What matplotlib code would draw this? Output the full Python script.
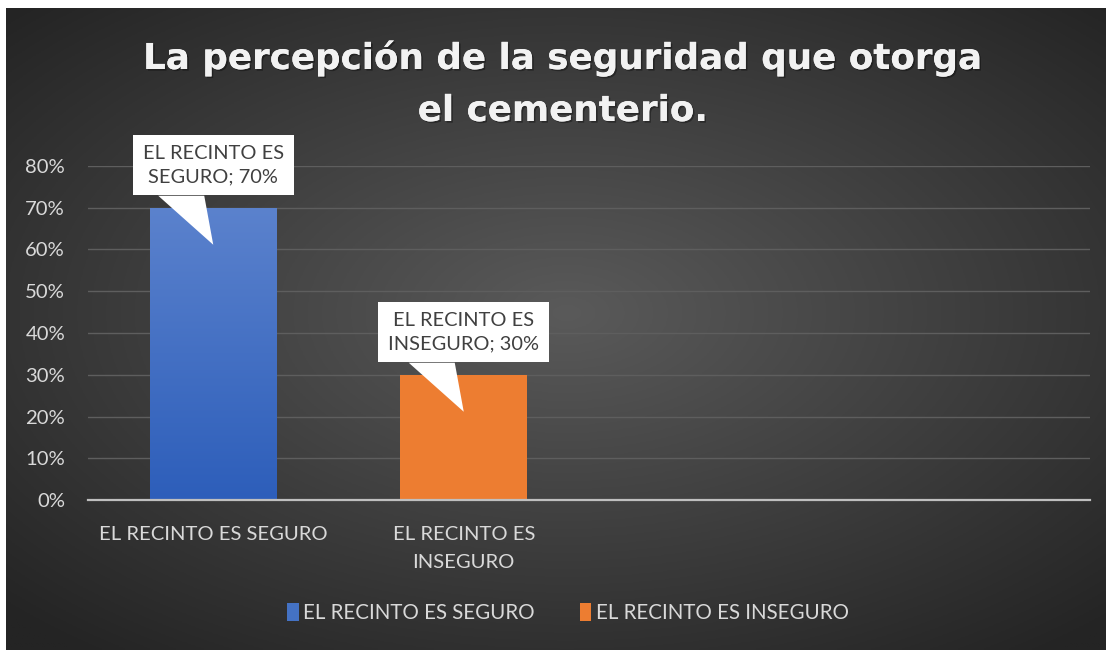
import textwrap

import matplotlib
matplotlib.use("Agg")
import matplotlib.pyplot as plt
import matplotlib.transforms as mtransforms
import matplotlib.patheffects as pe
import numpy as np
from matplotlib.patches import Polygon, Patch

# data
categories = ["EL RECINTO ES SEGURO", "EL RECINTO ES INSEGURO", "", ""]
values = [0.70, 0.30]
bar_colors = ["#4472c4", "#ed7d31"]
yticks = [0, 0.1, 0.2, 0.3, 0.4, 0.5, 0.6, 0.7, 0.8]
title_lines = ["La percepción de la seguridad que otorga", "el cementerio."]

W, H = 1108, 650
plt.rcParams["font.family"] = ["Lato", "DejaVu Sans"]
fig = plt.figure(figsize=(W / 100, H / 100), dpi=100, facecolor="white")

# dark radial-gradient background (white margin left/top like the source)
bg = fig.add_axes([6 / W, 0, 1100 / W, 642 / H], zorder=-10)
gx, gy = np.meshgrid(np.linspace(-1, 1, 400), np.linspace(-1, 1, 240))
r = np.sqrt(((gx - 0.02) / 1.05) ** 2 + ((gy + 0.05) / 1.0) ** 2)
r = np.clip(r / 1.35, 0, 1)
lo, hi = np.array([0x5a, 0x5a, 0x5a]), np.array([0x24, 0x24, 0x24])
img = (lo[None, None, :] * (1 - r[..., None]) + hi[None, None, :] * r[..., None]) / 255
bg.imshow(img, aspect="auto", extent=(0, 1, 0, 1), origin="upper")
bg.set_axis_off()

ax = fig.add_axes([88 / W, 150 / H, 1002 / W, 334 / H])
ax.set_facecolor("none")
x = np.arange(len(values))
bars = ax.bar(x, values, width=0.505, color=bar_colors, zorder=3)

# blue bar has a vertical gradient
grad = np.linspace(0, 1, 256)[:, None]
top, bot = np.array([0x5b, 0x82, 0xcd]) / 255, np.array([0x2d, 0x5e, 0xba]) / 255
gimg = top[None, None, :] * (1 - grad[..., None]) + bot[None, None, :] * grad[..., None]
b0 = bars[0]
im = ax.imshow(gimg, aspect="auto", zorder=4, origin="upper",
               extent=(b0.get_x(), b0.get_x() + b0.get_width(), 0, b0.get_height()))
im.set_clip_path(b0)
ax.set_xlim(-0.5, len(categories) - 0.5)
ax.set_ylim(0, 0.8)

ax.set_yticks(yticks)
ax.set_yticklabels([f"{t:.0%}" for t in yticks])
ax.set_xticks(np.arange(len(categories)))
ax.set_xticklabels([textwrap.fill(c, 20) for c in categories])
ax.tick_params(length=0, labelsize=14.6, colors="#d9d9d9")
ax.tick_params(axis="y", pad=16.5)
ax.tick_params(axis="x", pad=18.5)
for lbl in ax.get_xticklabels():
    lbl.set_linespacing(1.8)
ax.grid(axis="y", color="#5e5e5e", lw=1, zorder=0)
for s in ["top", "right", "left"]:
    ax.spines[s].set_visible(False)
ax.spines["bottom"].set_color("#bfbfbf")
ax.spines["bottom"].set_linewidth(1.6)
ax.spines["bottom"].set_zorder(5)

# callout data labels
px = 1 / 100  # one pixel in inches
for xi, v, name in zip(x, values, categories):
    label = textwrap.fill(f"{name}; {v:.0%}", 14)
    ax.annotate(label, xy=(xi, v), xytext=(0, 42.5 * 0.72), textcoords="offset points",
                ha="center", va="center", fontsize=14.4, color="#404040",
                linespacing=1.45, zorder=7,
                bbox=dict(boxstyle="square,pad=0.5", fc="white", ec="none"))
    tr = fig.dpi_scale_trans + mtransforms.ScaledTranslation(xi, v, ax.transData)
    ptr = Polygon([(-55 * px, 12 * px), (-9 * px, 12 * px), (0, -37 * px)],
                  closed=True, fc="white", ec="none", transform=tr, zorder=6,
                  clip_on=False)
    ax.add_patch(ptr)

# title, two centred lines
shadow = [pe.withSimplePatchShadow(offset=(1.2, -1.2), shadow_rgbFace="black", alpha=0.35),
          pe.Normal()]
for line, (cx, base) in zip(title_lines, [(561.5, 69), (562.5, 121)]):
    fig.text(cx / W, 1 - base / H, line, ha="center", va="baseline", fontsize=25.7,
             fontweight="bold", color="#f2f2f2", family=["DejaVu Sans"],
             path_effects=shadow)

handles = [Patch(facecolor=c, edgecolor="none") for c in bar_colors]
leg = fig.legend(handles, categories[:2], loc="center", bbox_to_anchor=(568 / W, 37 / H),
                 ncol=2, frameon=False, fontsize=14.8, handlelength=0.55, handleheight=1.0,
                 handletextpad=0.22, columnspacing=2.2)
for t in leg.get_texts():
    t.set_color("#d9d9d9")

fig.savefig("out.png", dpi=100, facecolor="white")
